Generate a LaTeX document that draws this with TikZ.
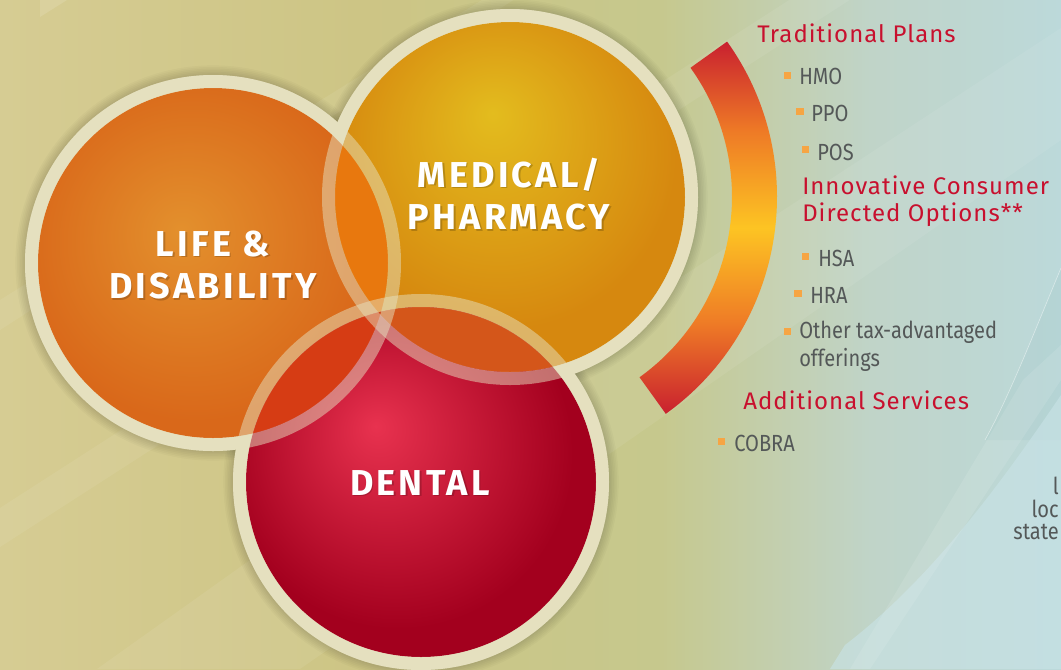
\documentclass[tikz,border=0pt]{standalone}
\usepackage{fontspec}
\setmainfont{Fira Sans}
\newfontfamily\labfont[LetterSpace=9]{Fira Sans}
\newfontfamily\headfont[LetterSpace=4.3]{Fira Sans}
\newfontfamily\itemfont[FakeStretch=0.86]{Fira Sans}
\definecolor{bgA}{HTML}{D6CC93}
\definecolor{bgB}{HTML}{CDC585}
\definecolor{bgC}{HTML}{C6C88D}
\definecolor{bgD}{HTML}{C0D4C8}
\definecolor{bgE}{HTML}{BCD9DA}
\definecolor{cream}{HTML}{E5E0BF}
\definecolor{lifeIn}{HTML}{E3902D}
\definecolor{lifeOut}{HTML}{D9681A}
\definecolor{medIn}{HTML}{E3BC1E}
\definecolor{medOut}{HTML}{D6880F}
\definecolor{denIn}{HTML}{E8324F}
\definecolor{denOut}{HTML}{A3001E}
\definecolor{ovLM}{HTML}{E8780E}
\definecolor{ovMD}{HTML}{D4561A}
\definecolor{ovLD}{HTML}{D63C14}
\definecolor{ovLMD}{HTML}{CF4318}
\definecolor{arcR}{HTML}{C9202F}
\definecolor{arcO}{HTML}{EE7A26}
\definecolor{arcY}{HTML}{FDC423}
\definecolor{headred}{HTML}{C8102E}
\definecolor{itemgray}{HTML}{545858}
\definecolor{bullet}{HTML}{F6A544}
\definecolor{lightblue}{HTML}{C9E3E7}
\definecolor{teal}{HTML}{A6CACA}
\pgfdeclarehorizontalshading{bgshade}{100bp}{color(0bp)=(bgA); color(25bp)=(bgA); color(42bp)=(bgB); color(56bp)=(bgC); color(66bp)=(bgD); color(75bp)=(bgE); color(100bp)=(bgE)}
\pgfdeclareradialshading{lifeshade}{\pgfpoint{-4.7bp}{4.7bp}}{color(0bp)=(lifeIn); color(25bp)=(lifeOut); color(50bp)=(lifeOut)}
\pgfdeclareradialshading{medshade}{\pgfpoint{-2.5bp}{12bp}}{color(0bp)=(medIn); color(25bp)=(medOut); color(50bp)=(medOut)}
\pgfdeclareradialshading{denshade}{\pgfpoint{-6.5bp}{8bp}}{color(0bp)=(denIn); color(25bp)=(denOut); color(50bp)=(denOut)}
\pgfdeclareverticalshading{arcshade}{100bp}{color(0bp)=(arcR); color(25bp)=(arcR); color(37bp)=(arcO); color(50bp)=(arcY); color(63bp)=(arcO); color(75bp)=(arcR); color(100bp)=(arcR)}
\tikzset{
  circlabel/.style={text=white, font=\labfont\bfseries\fontsize{27}{32}\selectfont, align=center},
  labshadow/.style={text=black, text opacity=0.18, font=\labfont\bfseries\fontsize{27}{32}\selectfont, align=center},
  heading/.style={anchor=west, inner sep=0pt, text=headred, font=\headfont\fontsize{18}{20}\selectfont, align=left},
  item/.style={anchor=west, inner sep=0pt, text=itemgray, font=\itemfont\fontsize{17.5}{21}\selectfont, align=left},
  bulletbox/.style={fill=bullet, draw=none, minimum size=5.8pt, inner sep=0pt},
  band/.style={fill=white, fill opacity=0.07, draw=none}
}
\begin{document}
\begin{tikzpicture}[x=0.75pt,y=-0.75pt]
\useasboundingbox (0,0) rectangle (1061,669);
\begin{scope}
\clip (0,0) rectangle (1061,669);
% background
\shade[shading=bgshade] (0,0) rectangle (1061,669);
\fill[band] (0,508) -- (0,547) -- (1061,-136) -- (1061,-175) -- cycle;
\fill[band] (97,669) -- (250,560) -- (1061,28) -- (1061,140) -- (300,669) -- cycle;
\fill[band] (0,300) -- (0,330) -- (560,-30) -- (530,-30) -- cycle;
\fill[white, fill opacity=0.12] (40,0) -- (67,0) -- (40,17) -- cycle;
\fill[teal, fill opacity=0.3] (1061,268) .. controls (1035,330) and (1010,395) .. (985,440) -- (1061,440) -- cycle;
\draw[white, opacity=0.45, line width=0.5pt] (1061,268) .. controls (1035,330) and (1010,395) .. (985,440);
\fill[lightblue, fill opacity=0.6] (1061,395) .. controls (1000,485) and (930,580) .. (845,645) -- (830,669) -- (1061,669) -- cycle;
\fill[white, fill opacity=0.10] (1023,380) -- (1061,345) -- (1061,380) -- (870,669) -- (850,669) -- cycle;
% arc
\begin{scope}[shift={(510,197)}]
\shade[shading=arcshade] (-35.6:267) arc[start angle=-35.6, end angle=54.3, radius=267] -- (54.3:222) arc[start angle=54.3, end angle=-35.6, radius=222] -- cycle;
\end{scope}
% circle shadows
\foreach \cx/\cy in {213/263, 510/197, 421/482}{
  \foreach \k in {1,...,6}{
    \fill[black, fill opacity=0.025] (\cx,\cy) circle[radius=188+1.6*\k];
  }
}
% cream bases
\fill[cream] (213,263) circle[radius=188];
\fill[cream] (510,197) circle[radius=188];
\fill[cream] (421,482) circle[radius=188];
% inner fills
\shade[shading=lifeshade] (213,263) circle[radius=175];
\shade[shading=medshade] (510,197) circle[radius=175];
\shade[shading=denshade] (421,482) circle[radius=175];
% overlaps
\begin{scope}
\clip (213,263) circle[radius=175];
\fill[ovLM] (510,197) circle[radius=175];
\end{scope}
\begin{scope}
\clip (510,197) circle[radius=175];
\fill[ovMD] (421,482) circle[radius=175];
\end{scope}
\begin{scope}
\clip (213,263) circle[radius=175];
\fill[ovLD] (421,482) circle[radius=175];
\end{scope}
\begin{scope}
\clip (213,263) circle[radius=175];
\clip (510,197) circle[radius=175];
\fill[ovLMD] (421,482) circle[radius=175];
\end{scope}
% translucent rings
\fill[cream, fill opacity=0.5, even odd rule] (213,263) circle[radius=188] (213,263) circle[radius=175];
\fill[cream, fill opacity=0.5, even odd rule] (510,197) circle[radius=188] (510,197) circle[radius=175];
\fill[cream, fill opacity=0.5, even odd rule] (421,482) circle[radius=188] (421,482) circle[radius=175];
% circle labels
\node[labshadow] at (214.5,266.5) {LIFE \&\\DISABILITY};
\node[circlabel] (life) at (213,265) {LIFE \&\\DISABILITY};
\node[labshadow] at (510.5,195.5) {MEDICAL/\\PHARMACY};
\node[circlabel] (med) at (509,194) {MEDICAL/\\PHARMACY};
\node[labshadow] at (421.5,484.5) {DENTAL};
\node[circlabel] (den) at (420,483) {DENTAL};
% right texts
\node[heading] (trad) at (757,33) {Traditional Plans};
\node[bulletbox] (b1) at (787.5,75.5) {};
\node[item] (hmo) at (799,76) {HMO};
\node[bulletbox] (b2) at (800,111.5) {};
\node[item] (ppo) at (811,113) {PPO};
\node[bulletbox] (b3) at (805.5,149.5) {};
\node[item] (pos) at (817,152) {POS};
\node[heading] (innov) at (802,201) {Innovative Consumer\\Directed Options**};
\node[bulletbox] (b4) at (805.5,256.5) {};
\node[item] (hsa) at (818,258) {HSA};
\node[bulletbox] (b5) at (798,293.5) {};
\node[item] (hra) at (810,295) {HRA};
\node[bulletbox] (b6) at (787.5,331.5) {};
\node[item, anchor=north west] (other) at (799,321) {Other tax-advantaged\\offerings};
\node[heading] (add) at (743,400) {Additional Services};
\node[bulletbox] (b7) at (721.5,441.5) {};
\node[item] (cobra) at (734,443) {COBRA};
\node[item, anchor=east] (e1) at (1059,486) {l};
\node[item, anchor=east] (e2) at (1059,509) {loc};
\node[item, anchor=east] (e3) at (1059,532) {state};
\end{scope}
\end{tikzpicture}
\end{document}
